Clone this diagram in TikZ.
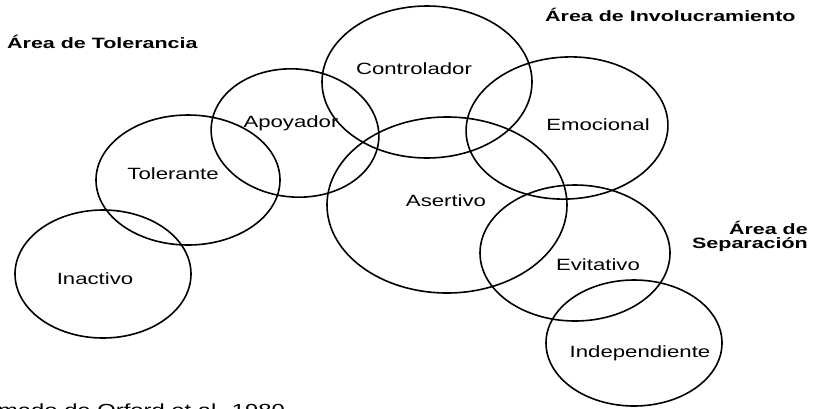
\documentclass[tikz,border=0pt]{standalone}
\usepackage{fontspec}
\setmainfont{Liberation Sans}
\newfontfamily\labfont[FakeStretch=1.36]{Liberation Sans}
\newfontfamily\titfont[FakeStretch=1.43]{Liberation Sans Bold}
\tikzset{
  zone/.style={line width=1.6pt, draw=black},
  lab/.style={font=\labfont\fontsize{16.3}{18}\selectfont, anchor=base, inner sep=0pt},
  srcstyle/.style={font=\labfont\fontsize{17.5}{19}\selectfont, inner sep=0pt},
  tit/.style={font=\titfont\fontsize{15}{15}\selectfont, inner sep=0pt},
}
\begin{document}
\begin{tikzpicture}[x=1pt,y=-1pt]
\useasboundingbox (0,0) rectangle (813,408);
\clip (0,0) rectangle (813,408);
% ellipse centres
\coordinate (cCon) at (427,82);
\coordinate (cEmo) at (567,128);
\coordinate (cAse) at (447,205);
\coordinate (cApo) at (295,133);
\coordinate (cTol) at (188,180);
\coordinate (cIna) at (103,274);
\coordinate (cEvi) at (575,253);
\coordinate (cInd) at (634,343);
% ellipses
\draw[zone] (cCon) ellipse [x radius=105pt, y radius=76pt];
\draw[zone] (cEmo) ellipse [x radius=101pt, y radius=71pt, rotate=3];
\draw[zone] (cAse) ellipse [x radius=120pt, y radius=88pt];
\draw[zone] (cApo) ellipse [x radius=84pt, y radius=64pt, rotate=-5];
\draw[zone] (cTol) ellipse [x radius=92pt, y radius=65pt];
\draw[zone] (cIna) ellipse [x radius=88pt, y radius=64pt];
\draw[zone] (cEvi) ellipse [x radius=95pt, y radius=68pt];
\draw[zone] (cInd) ellipse [x radius=88pt, y radius=63pt];
% labels
\node[lab] (con) at (414,74) {Controlador};
\node[lab] (emo) at (598,130) {Emocional};
\node[lab] (apo) at (291,127) {Apoyador};
\node[lab] (tol) at (173,179) {Tolerante};
\node[lab] (ase) at (446,206) {Asertivo};
\node[lab] (ina) at (95,284) {Inactivo};
\node[lab] (evi) at (598,270) {Evitativo};
\node[lab] (ind) at (640,357) {Independiente};
% area titles
\node[tit, anchor=base west] (atol) at (7,48.5) {Área de Tolerancia};
\node[tit, anchor=base west] (ainv) at (545,21.5) {Área de Involucramiento};
\node[tit, anchor=base east] (asep1) at (808,234) {Área de};
\node[tit, anchor=base east] (asep2) at (808,248) {Separación};
% source
\node[srcstyle, anchor=base east] (src) at (285,416) {Tomado de Orford et al. 1980};
\end{tikzpicture}
\end{document}
